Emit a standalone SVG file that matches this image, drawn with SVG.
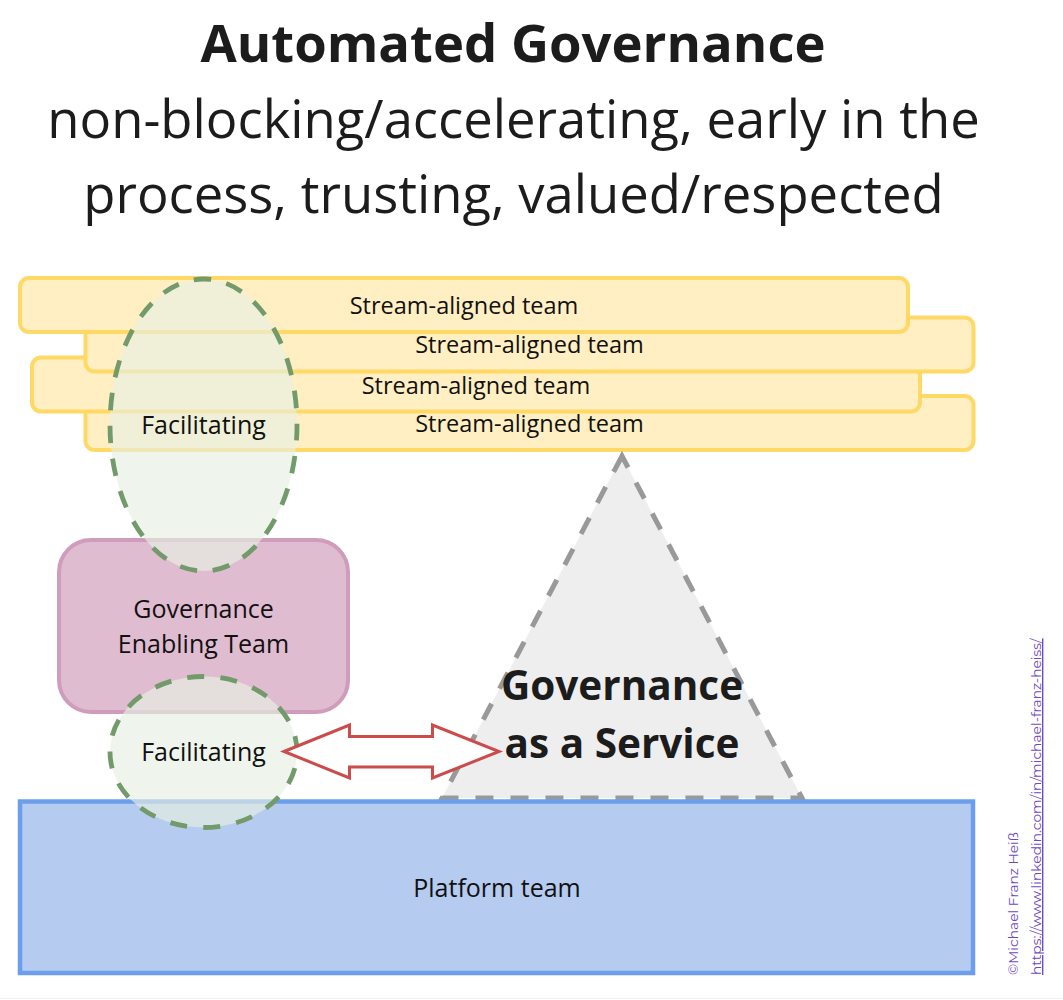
<svg xmlns="http://www.w3.org/2000/svg" width="1063" height="1000" viewBox="0 0 1063 1000">
<style>
text{font-family:"Open Sans","Noto Sans","Liberation Sans",sans-serif;text-anchor:middle;fill:#111}
.s{fill:#ffefc2;stroke:#ffd966;stroke-width:4}
.st{font-size:23.5px}
.l{font-size:25px}
.f{fill:#e6f0e2;fill-opacity:.65;stroke:#739a6b;stroke-width:4.800}
.h{font-size:52.600px;fill:#1c1c1c}
.b{font-size:40.500px;font-weight:700;fill:#1c1c1c}
.c{font-size:13.800px;fill:#7048bf;font-family:"Montserrat","Open Sans",sans-serif;text-anchor:start}
</style>
<rect width="1063" height="1000" fill="#fff"/>
<line x1="0" y1="998.500" x2="1063" y2="998.500" stroke="#f0f0f0" stroke-width="1"/>
<g id="title">
<text x="513" y="61.500" class="h" font-weight="700">Automated Governance</text>
<text x="513.500" y="137.500" class="h">non-blocking/accelerating, early in the</text>
<text x="513.500" y="212.500" class="h">process, trusting, valued/respected</text>
</g>
<g id="stream4"><rect class="s" x="85.500" y="396" width="888" height="54" rx="9"/><text class="st" x="529.500" y="432">Stream-aligned team</text></g>
<g id="stream3"><rect class="s" x="32" y="357.500" width="888" height="54" rx="9"/><text class="st" x="476" y="393.500">Stream-aligned team</text></g>
<g id="stream2"><rect class="s" x="85.500" y="317.500" width="888" height="54" rx="9"/><text class="st" x="529.500" y="353">Stream-aligned team</text></g>
<g id="stream1"><rect class="s" x="20" y="278" width="888" height="54" rx="9"/><text class="st" x="464" y="314">Stream-aligned team</text></g>
<g id="enabling"><rect x="59" y="540" width="289" height="172" rx="32" fill="#e0bcd0" stroke="#cf9dbb" stroke-width="4"/>
<text class="l" x="203.500" y="617.700">Governance</text><text class="l" x="203.500" y="652.700">Enabling Team</text></g>
<g id="gaas"><polygon points="622,456 802,798 442,798" fill="#eeeeee" stroke="#999999" stroke-width="5" stroke-dasharray="18 17" stroke-dashoffset="5"/>
<text x="622" y="700" class="b">Governance</text>
<text x="622" y="758" class="b">as a Service</text></g>
<g id="platform"><rect x="20" y="801.500" width="953" height="171.500" fill="#b5cbf0" stroke="#6d9eeb" stroke-width="4.500"/><text class="l" x="497" y="896.700">Platform team</text></g>
<g id="facilitating1"><ellipse class="f" cx="203.500" cy="425" rx="93.500" ry="146" stroke-dasharray="17.500 15.610" stroke-dashoffset="2"/><text class="l" x="203.500" y="433.500">Facilitating</text></g>
<g id="facilitating2"><ellipse class="f" cx="203.500" cy="752" rx="93.500" ry="75.500" stroke-dasharray="17 16.280" stroke-dashoffset="17"/><text class="l" x="203.500" y="760.500">Facilitating</text></g>
<g id="connectors"><polygon points="284,751.500 349.500,725 349.500,736.500 432.500,736.500 432.500,725 499,751.500 432.500,778 432.500,767 349.500,767 349.500,778" fill="#fff" stroke="#cc4b4b" stroke-width="3"/></g>
<g id="credit">
<text class="c" transform="translate(1018,975) rotate(-90)">©Michael Franz Heiß</text>
<text class="c" transform="translate(1041,975) rotate(-90)" text-decoration="underline">https://www.linkedin.com/in/michael-franz-heiss/</text>
</g>
</svg>
